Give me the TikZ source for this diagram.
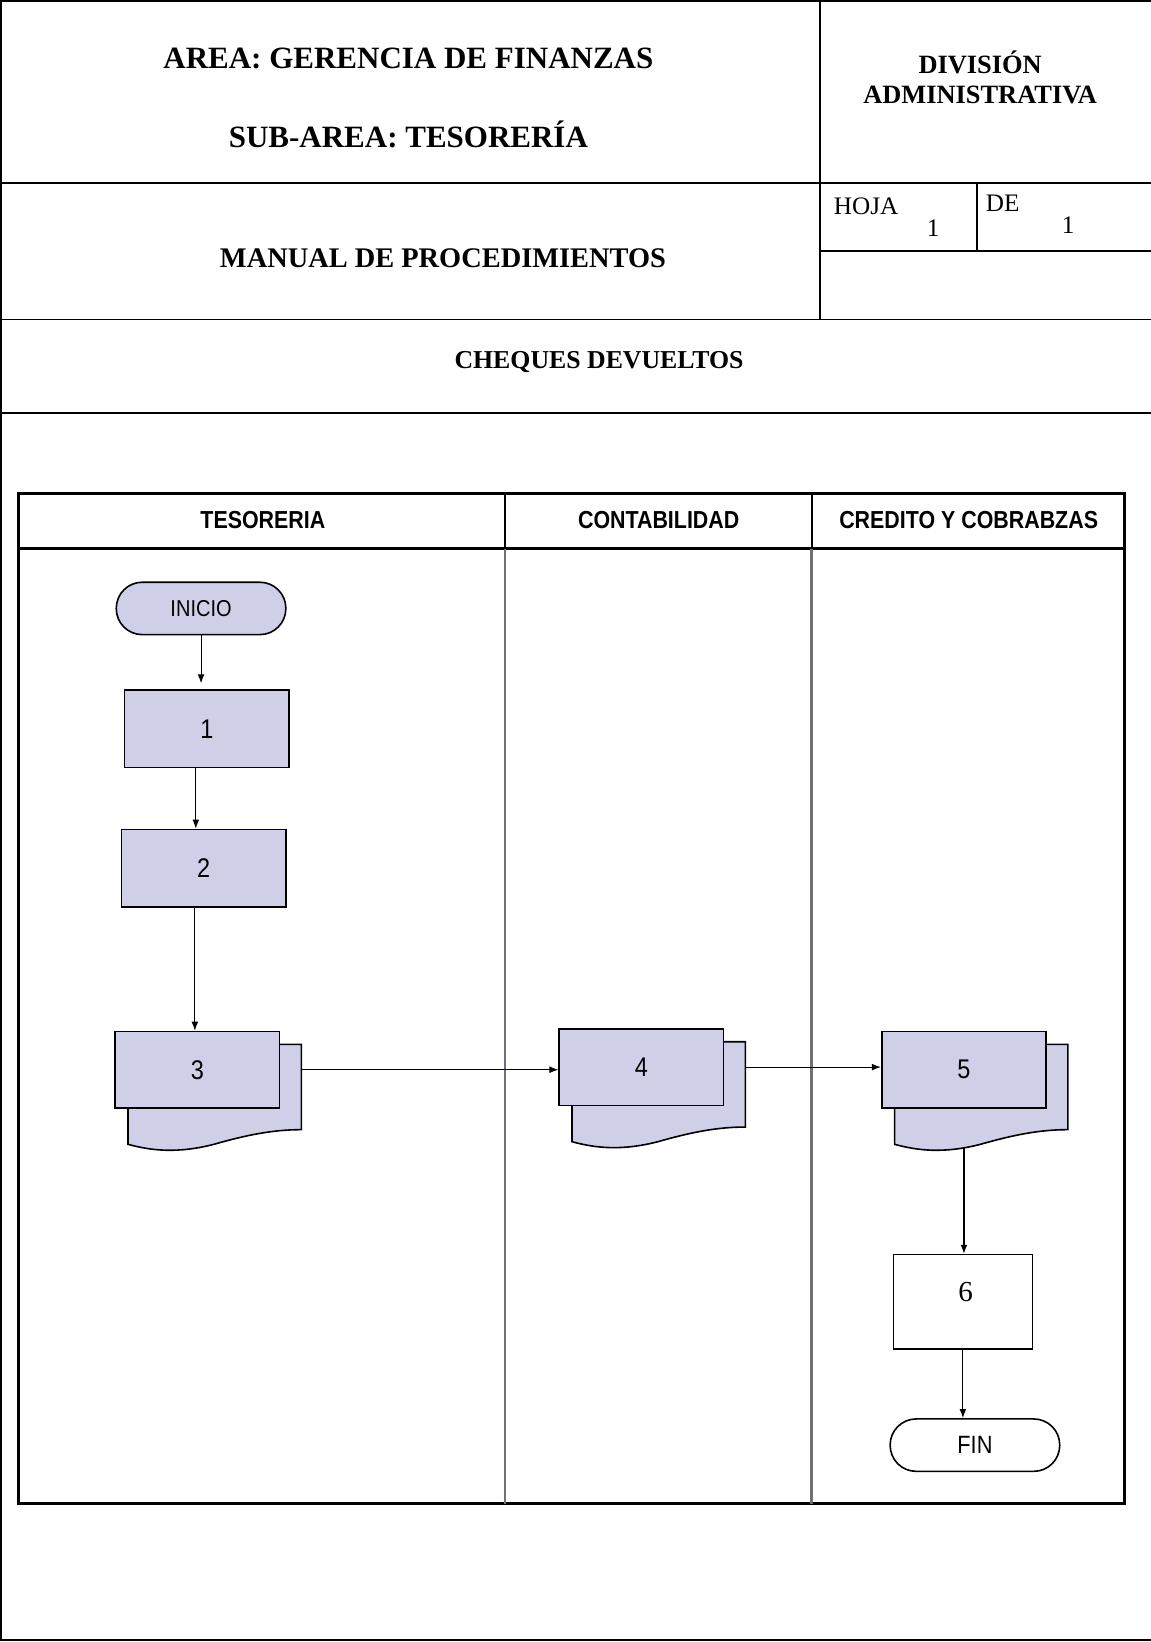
\documentclass[tikz,border=0pt]{standalone}
\usepackage{fontspec}
\setmainfont{Liberation Serif}
\newfontfamily\arialn[FakeStretch=0.87]{Liberation Sans}
\usetikzlibrary{arrows.meta,backgrounds,calc}

\definecolor{lila}{RGB}{207,208,232}
\definecolor{lanegray}{RGB}{112,112,122}

\tikzset{
  frame/.style={line width=0.9pt},
  lane/.style={line width=1.6pt},
  title/.style={anchor=base, inner sep=0, font=\bfseries\fontsize{15.5}{18}\selectfont},
  small/.style={anchor=base west, inner sep=0, font=\fontsize{12.6}{15}\selectfont},
  lanehead/.style={anchor=base, inner sep=0, font=\arialn\bfseries\fontsize{12.3}{14}\selectfont},
  term/.style={draw, line width=0.8pt, rounded corners=13pt, minimum width=84.8pt,
    minimum height=26.2pt, inner sep=0, font=\arialn\fontsize{11.5}{13}\selectfont},
  proc/.style={draw, fill=lila, line width=0.8pt, minimum width=82.2pt,
    minimum height=38.7pt, inner sep=0, font=\arialn\fontsize{13.5}{15}\selectfont},
  docback/.style={draw, fill=lila, line width=0.8pt},
  arr/.style={-{Latex[length=4.5pt,width=3.4pt]}, line width=0.55pt}
}

\begin{document}
\begin{tikzpicture}[x=0.52365pt, y=-0.52365pt]
  \useasboundingbox (0,0) rectangle (1099,1568);

  % page frame and header
  \draw[frame] (1099,1) -- (1,1) -- (1,1566) -- (1099,1566);
  \draw[frame] (0,175) -- (1099,175);
  \draw[frame] (0,305) -- (1099,305);
  \draw[frame] (0,394) -- (1099,394);
  \draw[frame] (783,0) -- (783,305);
  \draw[frame] (783,240) -- (1099,240);
  \draw[frame] (933,175) -- (933,240);

  \node[title] (area) at (390,65) {AREA: GERENCIA DE FINANZAS};
  \node[title] (subarea) at (390,141) {SUB-AREA: TESORERÍA};
  \node[title, font=\bfseries\fontsize{13.2}{15}\selectfont] (div1) at (936,70) {DIVISIÓN};
  \node[title, font=\bfseries\fontsize{13.2}{15}\selectfont] (div2) at (936,99) {ADMINISTRATIVA};
  \node[small] (hoja) at (796,205) {HOJA};
  \node[small, anchor=base] (hoja1) at (891,226) {1};
  \node[small] (de) at (941,202) {DE};
  \node[small, anchor=base] (de1) at (1020,223) {1};
  \node[title, font=\bfseries\fontsize{14.2}{17}\selectfont] (manual) at (423,255) {MANUAL DE PROCEDIMIENTOS};
  \node[title, font=\bfseries\fontsize{12.9}{15}\selectfont] (cheques) at (572,352) {CHEQUES DEVUELTOS};

  % swimlanes
  \draw[lane] (18,471) rectangle (1074,1436);
  \draw[line width=1.3pt] (18,524) -- (1074,524);
  \draw[line width=1pt] (482,471) -- (482,524) (775,471) -- (775,524);
  \draw[line width=1.2pt, lanegray] (482,524) -- (482,1436) (775,524) -- (775,1436);

  \node[lanehead] (hTes) at (251,505) {TESORERIA};
  \node[lanehead] (hCon) at (629,505) {CONTABILIDAD};
  \node[lanehead] (hCre) at (925,505) {CREDITO Y COBRABZAS};

  % steps
  \node[term, fill=lila] (ini) at (192,581) {INICIO};
  \node[proc] (n1) at (197.5,696) {1};
  \node[proc] (n2) at (194.5,829) {2};
  \node[proc, minimum height=38.2pt] (d3) at (188.5,1021.5) {3};
  \node[proc, minimum height=38.2pt] (d4) at (612.5,1019) {4};
  \node[proc, minimum height=38.2pt] (d5) at (920.5,1021.5) {5};
  \node[draw, line width=0.8pt, minimum width=69.6pt, minimum height=47.1pt] (n6) at (919.5,1243) {};
  \node[anchor=base, inner sep=0, font=\fontsize{14.5}{17}\selectfont] (l6) at (922,1243) {6};
  \node[term, font=\arialn\fontsize{12.5}{14}\selectfont] (fin) at (931,1380) {FIN};

  % second sheet behind each document
  \begin{scope}[on background layer]
    \foreach \d in {d3,d4,d5}
      \draw[docback] ($(\d.north west)+(13,13)$) -- ($(\d.north east)+(20,13)$)
        -- ($(\d.south east)+(20,20)$)
        .. controls ($(\d.south east)+(-7,20)$) and ($(\d.south east)+(-32,25)$) .. ($(\d.south west)+(95,34)$)
        .. controls ($(\d.south west)+(60,43)$) and ($(\d.south west)+(35,40)$) .. ($(\d.south west)+(13,34)$)
        -- cycle;
  \end{scope}

  % connectors
  \draw[arr, shorten >=3pt] (ini.south) -- (ini.south |- n1.north);
  \draw[arr] ([xshift=-5.5pt]n1.south) -- ([xshift=-5.5pt]n1.south |- n2.north);
  \draw[arr] ([xshift=-4.4pt]n2.south) -- ([xshift=-4.4pt]n2.south |- d3.north);
  \draw[arr] ([xshift=10.5pt]d3.east) -- (d3.east -| d4.west);
  \draw[arr] ([xshift=10.5pt]d4.east) -- (d4.east -| d5.west);
  \draw[arr] ([yshift=-19pt]d5.south) -- (d5.south |- n6.north);
  \draw[arr] (n6.south) -- (n6.south |- fin.north);
\end{tikzpicture}
\end{document}
